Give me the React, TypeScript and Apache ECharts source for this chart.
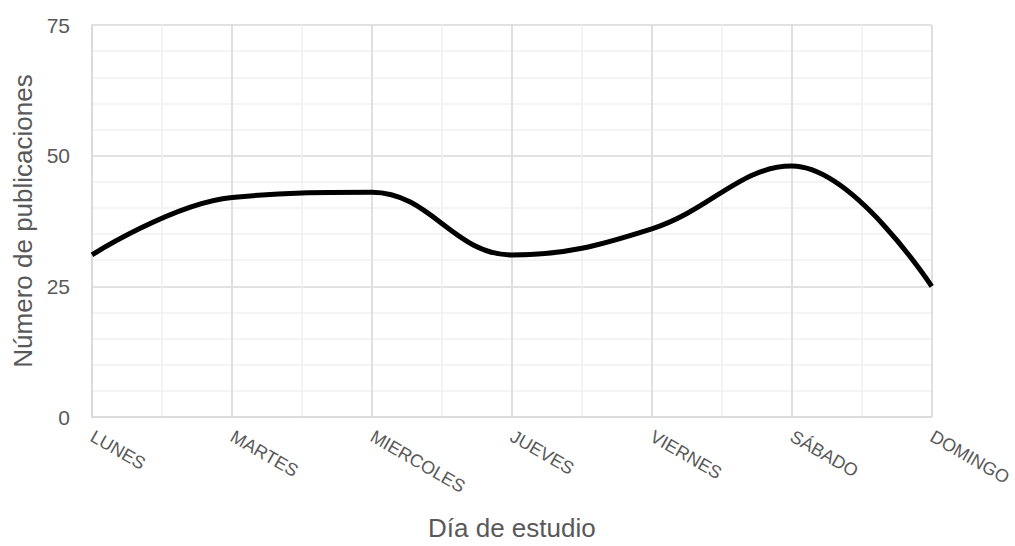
import React, { useEffect, useRef } from "react";
import * as echarts from "echarts";

const categories = ["LUNES", "MARTES", "MIERCOLES", "JUEVES", "VIERNES", "SÁBADO", "DOMINGO"];
const publicaciones = [31, 42, 43, 31, 36, 48, 25];
const yTicks = { min: 0, max: 75, interval: 25 };
const xAxisTitle = "Día de estudio";
const yAxisTitle = "Número de publicaciones";

export default function App() {
  const ref = useRef<HTMLDivElement>(null);
  useEffect(() => {
    if (!ref.current) return;
    const chart = echarts.init(ref.current, null, { renderer: "svg" });
    const font = "'Liberation Sans', Arial, sans-serif";
    chart.setOption({
      animation: false,
      backgroundColor: "#ffffff",
      textStyle: { fontFamily: font },
      grid: { left: 92, right: 82, top: 25, bottom: 121 },
      xAxis: [
        {
          type: "category",
          data: categories,
          boundaryGap: false,
          name: xAxisTitle,
          nameLocation: "middle",
          nameGap: 98,
          nameTextStyle: { fontSize: 26, color: "#595959", fontFamily: font },
          axisLine: { show: true, lineStyle: { color: "#d9d9d9", width: 1.5 } },
          axisTick: { show: false },
          axisLabel: {
            rotate: -30,
            fontSize: 18,
            color: "#595959",
            margin: 18,
            fontFamily: font,
            interval: 0,
          },
          splitLine: { show: true, lineStyle: { color: "#d9d9d9", width: 1.5 } },
          z: 2,
        },
        {
          type: "value",
          min: 0,
          max: 12,
          interval: 1,
          position: "bottom",
          axisLine: { show: false },
          axisTick: { show: false },
          axisLabel: { show: false },
          splitLine: { show: true, lineStyle: { color: "#f0f0f0", width: 1.5 } },
          z: 0,
        },
      ],
      yAxis: {
        type: "value",
        min: yTicks.min,
        max: yTicks.max,
        interval: yTicks.interval,
        name: yAxisTitle,
        nameLocation: "middle",
        nameGap: 55,
        nameTextStyle: { fontSize: 26, color: "#595959", fontFamily: font },
        axisLine: { show: true, lineStyle: { color: "#d9d9d9", width: 1.5 } },
        axisTick: { show: false },
        axisLabel: { fontSize: 21, color: "#595959", margin: 22, fontFamily: font },
        splitLine: { show: true, lineStyle: { color: "#d9d9d9", width: 1.5 } },
        minorTick: { show: false, splitNumber: 5 },
        minorSplitLine: { show: true, lineStyle: { color: "#f0f0f0", width: 1.5 } },
      },
      series: [
        {
          type: "line",
          data: publicaciones,
          xAxisIndex: 0,
          smooth: 0.4,
          showSymbol: false,
          symbol: "none",
          lineStyle: { color: "#000000", width: 5 },
          z: 5,
        },
      ],
    });
    return () => chart.dispose();
  }, []);
  return <div ref={ref} style={{ width: 1015, height: 546, position: "absolute", left: 0, top: 0 }} />;
}
